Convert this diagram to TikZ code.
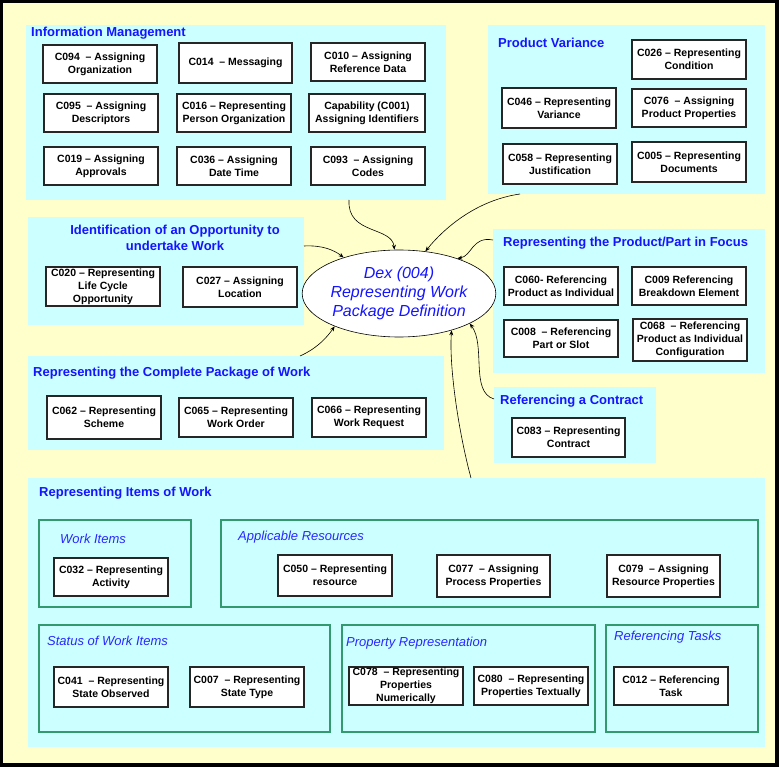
\documentclass[tikz,border=0pt]{standalone}
\usepackage{fontspec}
\setmainfont{Liberation Sans}
\usetikzlibrary{shapes.geometric,arrows.meta}
\definecolor{bgyellow}{RGB}{255,255,204}
\definecolor{panelcyan}{RGB}{204,255,255}
\definecolor{titleblue}{RGB}{20,20,255}
\definecolor{subblue}{RGB}{40,40,255}
\definecolor{subgreen}{RGB}{51,153,110}
\newcommand\rb[7]{\node[#2,minimum width={#5-#3},minimum height={#6-#4}] (#1) at ({(#3+#5)/2},{(#4+#6)/2}) {#7};}
\tikzset{
  panel/.style={fill=panelcyan,draw=none,inner sep=0pt},
  subpanel/.style={draw=subgreen,line width=1.5pt,inner sep=0pt},
  cbox/.style={draw=black!85,line width=1.1pt,fill=white,inner sep=0pt,align=center,
     font=\fontsize{10.5}{13}\selectfont\bfseries},
  ptitle/.style={anchor=west,inner sep=0pt,text=titleblue,font=\fontsize{13}{16}\selectfont\bfseries},
  stitle/.style={anchor=west,inner sep=0pt,text=subblue,font=\fontsize{13}{16}\selectfont\itshape},
  conn/.style={line width=0.6pt,-{Stealth[length=5pt,width=4pt]}},
}
\begin{document}
\begin{tikzpicture}[x=1pt,y=-1pt]
\useasboundingbox (0,0) rectangle (779,767);
\fill[black] (0,0) rectangle (779,767);
\fill[bgyellow] (3,3) rectangle (775,763);

% Information Management
\rb{im}{panel}{26}{25}{446}{200}{}
\node[ptitle] (imt) at (31,33) {Information Management};
\rb{c094}{cbox}{43}{45}{157}{83}{C094 ~– Assigning\\Organization}
\rb{c014}{cbox}{179}{43}{292}{83}{C014 ~– Messaging}
\rb{c010}{cbox}{311}{43}{425}{81}{C010 – Assigning\\Reference Data}
\rb{c095}{cbox}{44}{94}{158}{132}{C095 ~– Assigning\\Descriptors}
\rb{c016}{cbox}{177}{94}{291}{132}{C016 – Representing\\Person Organization}
\rb{c001}{cbox}{309}{94}{425}{132}{Capability (C001)\\Assigning Identifiers}
\rb{c019}{cbox}{44}{147}{158}{185}{C019 – Assigning\\Approvals}
\rb{c036}{cbox}{177}{147}{291}{185}{C036 – Assigning\\Date Time}
\rb{c093}{cbox}{311}{147}{425}{185}{C093 ~– Assigning\\Codes}

% Product Variance
\rb{pv}{panel}{488}{25}{765}{194}{}
\node[ptitle] (pvt) at (498,43) {Product Variance};
\rb{c026}{cbox}{632}{40}{746}{79}{C026 – Representing\\Condition}
\rb{c046}{cbox}{502}{88}{616}{128}{C046 – Representing\\Variance}
\rb{c076}{cbox}{632}{89}{746}{127}{C076 ~– Assigning\\Product Properties}
\rb{c058}{cbox}{503}{144}{617}{184}{C058 – Representing\\Justification}
\rb{c005}{cbox}{632}{142}{746}{182}{C005 – Representing\\Documents}

% Identification of an Opportunity
\rb{io}{panel}{28}{217}{304}{325}{}
\node[ptitle,anchor=center,align=center] (iot) at (175,238) {Identification of an Opportunity to\\undertake Work};
\rb{c020}{cbox}{46}{267}{160}{306}{C020 – Representing\\Life Cycle\\Opportunity}
\rb{c027}{cbox}{183}{267}{297}{307}{C027 – Assigning\\Location}

% Complete Package of Work
\rb{cp}{panel}{28}{356}{444}{450}{}
\node[ptitle] (cpt) at (33,373) {Representing the Complete Package of Work};
\rb{c062}{cbox}{47}{396}{161}{439}{C062 – Representing\\Scheme}
\rb{c065}{cbox}{179}{398}{293}{437}{C065 – Representing\\Work Order}
\rb{c066}{cbox}{312}{398}{426}{437}{C066 – Representing\\Work Request}

% Product / Part in Focus
\rb{pp}{panel}{493}{229}{765}{373}{}
\node[ptitle] (ppt) at (503,243) {Representing the Product/Part in Focus};
\rb{c060}{cbox}{504}{267}{618}{305}{C060- Referencing\\Product as Individual}
\rb{c009}{cbox}{632}{267}{746}{305}{C009 Referencing\\Breakdown Element}
\rb{c008}{cbox}{504}{320}{618}{357}{C008 ~– Referencing\\Part or Slot}
\rb{c068}{cbox}{633}{319}{747}{361}{C068 ~– Referencing\\Product as Individual\\Configuration}

% Referencing a Contract
\rb{rc}{panel}{494}{387}{656}{463}{}
\node[ptitle] (rct) at (500,401) {Referencing a Contract};
\rb{c083}{cbox}{512}{418}{625}{457}{C083 – Representing\\Contract}

% Representing Items of Work
\rb{iw}{panel}{28}{478}{765}{747}{}
\node[ptitle] (iwt) at (39,493) {Representing Items of Work};

\rb{wi}{subpanel}{39}{520}{191}{607}{}
\node[stitle] (wit) at (60,539) {Work Items};
\rb{c032}{cbox}{54}{558}{168}{596}{C032 – Representing\\Activity}

\rb{ar}{subpanel}{221}{520}{758}{607}{}
\node[stitle] (art) at (238,537) {Applicable Resources};
\rb{c050}{cbox}{278}{555}{392}{596}{C050 – Representing\\resource}
\rb{c077}{cbox}{437}{555}{550}{597}{C077 ~– Assigning\\Process Properties}
\rb{c079}{cbox}{607}{555}{720}{597}{C079 ~– Assigning\\Resource Properties}

\rb{sw}{subpanel}{39}{625}{330}{732}{}
\node[stitle] (swt) at (47,641) {Status of Work Items};
\rb{c041}{cbox}{54}{667}{168}{707}{C041 ~– Representing\\State Observed}
\rb{c007}{cbox}{190}{667}{304}{707}{C007 ~– Representing\\State Type}

\rb{pr}{subpanel}{342}{625}{595}{732}{}
\node[stitle] (prt) at (346,643) {Property Representation};
\rb{c078}{cbox}{349}{667}{463}{705}{C078 ~– Representing\\Properties\\Numerically}
\rb{c080}{cbox}{474}{667}{588}{705}{C080 ~– Representing\\Properties Textually}

\rb{rt}{subpanel}{606}{625}{758}{732}{}
\node[stitle] (rtt) at (614,637) {Referencing Tasks};
\rb{c012}{cbox}{614}{667}{728}{705}{C012 – Referencing\\Task}

% Central ellipse
\node[ellipse,draw=black,line width=0.6pt,fill=white,minimum width=182,minimum height=87,inner sep=0pt,
  align=center,text=titleblue,font=\fontsize{16}{19}\selectfont\itshape] (dex) at (399,293.5)
  {Dex (004)\\Representing Work\\Package Definition};

% Connectors
\coordinate (a1) at (349,200);
\coordinate (a2) at (520,194);
\coordinate (a3) at (304,246);
\coordinate (a4) at (493,240);
\coordinate (a5) at (300,356);
\coordinate (a6) at (494,399);
\coordinate (a7) at (471,478);
\draw[conn] (a1) .. controls (347,235) and (392,226) .. (dex.96);
\draw[conn] (a2) .. controls (478,200) and (446,226) .. (dex.58);
\draw[conn] (a3) .. controls (322,245) and (334,250) .. (dex.147);
\draw[conn] (a4) .. controls (472,236) and (472,256) .. (dex.31);
\draw[conn] (a5) .. controls (318,348) and (328,336) .. (dex.207);
\draw[conn] (a6) .. controls (470,392) and (486,345) .. (dex.337);
\draw[conn] (a7) .. controls (458,430) and (449,365) .. (dex.325);
\end{tikzpicture}
\end{document}
